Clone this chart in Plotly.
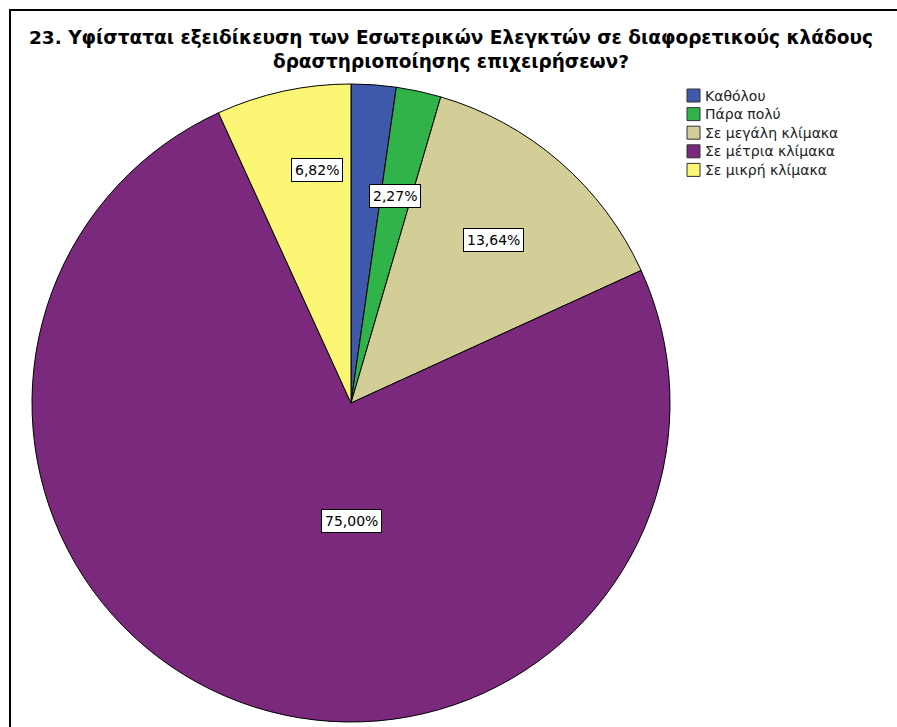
import math
import plotly.graph_objects as go

# Survey question 23 – responses (percent of respondents)
categories = ["Καθόλου", "Πάρα πολύ", "Σε μεγάλη κλίμακα", "Σε μέτρια κλίμακα", "Σε μικρή κλίμακα"]
percentages = [2.27, 2.27, 13.64, 75.00, 6.82]
colors = ["#3E58AC", "#30B44A", "#D3CE98", "#7A297C", "#FBF774"]
title_lines = [
    "23. Υφίσταται εξειδίκευση των Εσωτερικών Ελεγκτών σε διαφορετικούς κλάδους",
    "δραστηριοποίησης επιχειρήσεων?",
]

# label placement inside each slice: (angle from 12 o'clock, clockwise, degrees; fraction of radius)
# None = label suppressed (overlaps its neighbour)
label_polar = [None, (12.0, 0.663), (41.2, 0.68), (180.0, 0.371), (-8.3, 0.738)]

W, H = 897, 727
cx, cy, R = 351, 403, 319  # pie centre and radius, pixels
FONT = "DejaVu Sans, Liberation Sans, Arial"


def px(x):
    return x / W


def py(y):
    return 1 - y / H


fig = go.Figure(go.Pie(
    labels=categories,
    values=percentages,
    sort=False,
    direction="clockwise",
    rotation=0,
    marker=dict(colors=colors, line=dict(color="#000000", width=1)),
    textinfo="none",
    hoverinfo="label+percent",
    showlegend=False,
    domain=dict(x=[px(cx - R), px(cx + R)], y=[py(cy + R), py(cy - R)]),
))

annotations = []

# boxed percentage labels
for pct, pos in zip(percentages, label_polar):
    if pos is None:
        continue
    ang, frac = pos
    a = math.radians(ang)
    x = cx + frac * R * math.sin(a)
    y = cy - frac * R * math.cos(a)
    annotations.append(dict(
        x=px(x), y=py(y), xref="paper", yref="paper",
        xanchor="center", yanchor="middle",
        text=f"{pct:.2f}%".replace(".", ","),
        showarrow=False,
        font=dict(family=FONT, size=14, color="#000000"),
        bgcolor="#FFFFFF", bordercolor="#000000", borderwidth=1, borderpad=3,
    ))

# title
annotations.append(dict(
    x=px(451), y=py(50), xref="paper", yref="paper",
    xanchor="center", yanchor="middle", align="center",
    text="<br>".join(f"<b>{t}</b>" for t in title_lines), showarrow=False,
    font=dict(family=FONT, size=18.5, color="#000000"),
))

shapes = []

# outer frame
shapes.append(dict(
    type="rect", xref="paper", yref="paper",
    x0=px(10), x1=1.05, y0=-0.05, y1=py(10),
    line=dict(color="#000000", width=2), fillcolor="rgba(0,0,0,0)",
))

# legend: swatches and names
leg_x, leg_y, leg_step, sw = 687, 95.5, 18.6, 13
for i, (name, col) in enumerate(zip(categories, colors)):
    yc = leg_y + i * leg_step
    shapes.append(dict(
        type="rect", xref="paper", yref="paper",
        x0=px(leg_x), x1=px(leg_x + sw), y0=py(yc + sw / 2), y1=py(yc - sw / 2),
        line=dict(color="#333333", width=1), fillcolor=col,
    ))
    annotations.append(dict(
        x=px(leg_x + sw + 3), y=py(yc), xref="paper", yref="paper",
        xanchor="left", yanchor="middle", text=name, showarrow=False,
        font=dict(family=FONT, size=14, color="#222222"),
    ))

fig.update_layout(
    width=W, height=H,
    margin=dict(l=0, r=0, t=0, b=0),
    paper_bgcolor="#FFFFFF", plot_bgcolor="#FFFFFF",
    annotations=annotations, shapes=shapes,
)

fig.write_html("out.html")
